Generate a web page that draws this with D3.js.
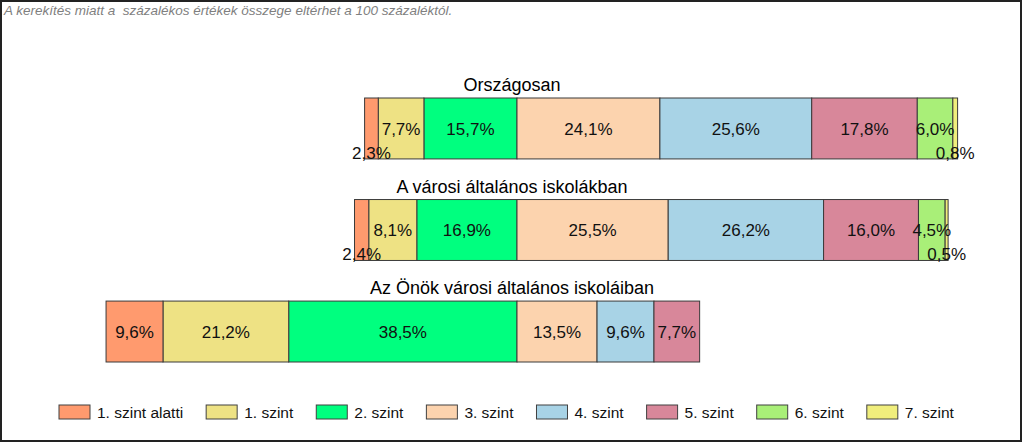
<!DOCTYPE html>
<html><head><meta charset="utf-8">
<script src="https://cdn.jsdelivr.net/npm/d3@7"></script>
<style>
html,body{margin:0;padding:0;background:#fff;}
svg{display:block;font-family:"Liberation Sans",Arial,sans-serif;}
</style></head>
<body>
<svg id="chart" width="1024" height="443"></svg>
<script>
const note = "A kerekítés miatt a  százalékos értékek összege eltérhet a 100 százaléktól.";
const categories = ["Országosan", "A városi általános iskolákban", "Az Önök városi általános iskoláiban"];
const levels = ["1. szint alatti", "1. szint", "2. szint", "3. szint", "4. szint", "5. szint", "6. szint", "7. szint"];
const colors = ["#FF9A6E", "#EEE284", "#00FF7F", "#FCD3AE", "#A8D3E6", "#D8879A", "#A9EF78", "#F0EE7C"];
// values per category, one array per level
const below1 = [2.3, 2.4, 9.6];
const level1 = [7.7, 8.1, 21.2];
const level2 = [15.7, 16.9, 38.5];
const level3 = [24.1, 25.5, 13.5];
const level4 = [25.6, 26.2, 9.6];
const level5 = [17.8, 16.0, 7.7];
const level6 = [6.0, 4.5, 0];
const level7 = [0.8, 0.5, 0];
const series = [below1, level1, level2, level3, level4, level5, level6, level7];
const negLevels = 3; // levels drawn left of the split

const svg = d3.select("#chart");

// frame
svg.append("rect").attr("x", 1).attr("y", 1).attr("width", 1020).attr("height", 440)
  .attr("fill", "#fff").attr("stroke", "#222").attr("stroke-width", 2);

svg.append("text").attr("x", 4).attr("y", 15).attr("font-size", 13.5).attr("font-style", "italic")
  .attr("fill", "#7f7f7f").attr("xml:space", "preserve").style("white-space", "pre").text(note);

const x = d3.scaleLinear().domain([-100, 100]).range([517 - 593, 517 + 593]);
const y = d3.scaleBand().domain(categories).range([98, 362]).paddingInner(0.4).paddingOuter(0);

// build segments
const segs = [];
categories.forEach((c, ci) => {
  let acc = 0;
  for (let li = negLevels - 1; li >= 0; li--) {
    const v = series[li][ci];
    segs.push({c, li, v, x0: -(acc + v), x1: -acc});
    acc += v;
  }
  acc = 0;
  for (let li = negLevels; li < levels.length; li++) {
    const v = series[li][ci];
    if (v > 0) segs.push({c, li, v, x0: acc, x1: acc + v});
    acc += v;
  }
});

const g = svg.append("g");
g.selectAll("rect.seg").data(segs).join("rect").attr("class", "seg")
  .attr("x", d => x(d.x0)).attr("y", d => y(d.c))
  .attr("width", d => x(d.x1) - x(d.x0)).attr("height", y.bandwidth())
  .attr("fill", d => colors[d.li]).attr("stroke", "#3a3a3a").attr("stroke-width", 1);

g.selectAll("text.lbl").data(segs).join("text").attr("class", "lbl")
  .attr("x", d => (x(d.x0) + x(d.x1)) / 2)
  .attr("y", d => y(d.c) + y.bandwidth() / 2 + (d.v < 3 ? 24 : 0))
  .attr("dy", "0.36em").attr("text-anchor", "middle").attr("font-size", 17).attr("fill", "#111")
  .text(d => d3.format(".1f")(d.v).replace(".", ",") + "%");

svg.selectAll("text.title").data(categories).join("text").attr("class", "title")
  .attr("x", 512).attr("y", d => y(d) - 7).attr("text-anchor", "middle")
  .attr("font-size", 18).attr("fill", "#000").text(d => d);

// legend
const leg = svg.append("g");
let lx = 59;
levels.forEach((l, i) => {
  leg.append("rect").attr("x", lx).attr("y", 405).attr("width", 31).attr("height", 14)
    .attr("fill", colors[i]).attr("stroke", "#404040").attr("stroke-width", 1);
  const t = leg.append("text").attr("x", lx + 38).attr("y", 417.5).attr("font-size", 15.5)
    .attr("fill", "#111").text(l);
  const w = t.node().getComputedTextLength();
  lx = lx + 38 + w + 23;
});
</script>
</body></html>
